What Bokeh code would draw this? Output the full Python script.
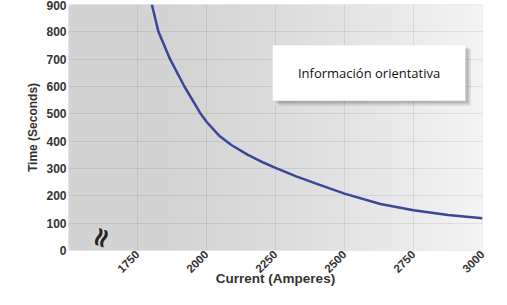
import numpy as np
from bokeh.plotting import figure
from bokeh.models import FixedTicker, Label, BoxAnnotation, Range1d
from bokeh.embed import file_html
from bokeh.resources import INLINE

# data
current = [1802, 1826, 1868, 1920, 1979, 2000, 2045, 2090, 2150, 2208, 2250, 2325,
           2400, 2500, 2630, 2750, 2875, 3000]
time_s = [900, 800, 700, 600, 500, 471, 421, 386, 350, 321, 302, 271,
          244, 208, 170, 147, 130, 118]
x_ticks = [1750, 2000, 2250, 2500, 2750, 3000]
break_pos = 1615
y_ticks = [0, 100, 200, 300, 400, 500, 600, 700, 800, 900]
note_text = "Información orientativa"

X0, X1 = 1500, 3000
Y0, Y1 = 0, 900

p = figure(width=491, height=289, output_backend="svg", toolbar_location=None,
           x_range=Range1d(X0, X1), y_range=Range1d(Y0, Y1),
           min_border_left=68, min_border_right=9, min_border_top=4, min_border_bottom=30)
p.outline_line_color = None
p.background_fill_color = "#d6d6d6"
p.border_fill_color = "white"

# horizontal gradient background of the plot area
n = 256
t = np.linspace(0, 1, n)
ramp = np.clip((t - 0.2) / 0.8, 0, 1) ** 1.3
lev = (211 + (244 - 211) * ramp).astype(np.uint32)
img = np.empty((1, n), dtype=np.uint32)
img[0, :] = (255 << 24) | (lev << 16) | (lev << 8) | lev
r_img = p.image_rgba(image=[img], x=X0, y=Y0, dw=X1 - X0, dh=Y1 - Y0)
r_img.level = "image"

p.xgrid.ticker = FixedTicker(ticks=x_ticks)
p.xgrid.grid_line_color = "#000000"
p.xgrid.grid_line_alpha = 0.08
p.ygrid.grid_line_color = "#000000"
p.ygrid.grid_line_alpha = 0.08

p.line(current, time_s, line_color="#3a4799", line_width=2.5)

# note box with shadow
p.add_layout(BoxAnnotation(left=2262, right=2958, top=736, bottom=530,
                           fill_color="#000000", fill_alpha=0.10, line_color=None))
p.add_layout(BoxAnnotation(left=2254, right=2950, top=742, bottom=538,
                           fill_color="#000000", fill_alpha=0.14, line_color=None))
p.add_layout(BoxAnnotation(left=2240, right=2938, top=751, bottom=548,
                           fill_color="white", fill_alpha=1.0, line_color=None))
p.add_layout(Label(x=2589, y=650, text=note_text, text_align="center",
                   text_baseline="middle", text_font="Open Sans",
                   text_font_size="13px", text_color="#111111"))

# axis break marker
p.add_layout(Label(x=break_pos, y=Y0, text="≈", text_align="center",
                   text_baseline="middle", angle=1.25, y_offset=13,
                   text_font="DejaVu Sans", text_font_size="27px",
                   text_font_style="bold", text_color="#222222", level="overlay"))

p.xaxis.ticker = FixedTicker(ticks=x_ticks)
p.yaxis.ticker = FixedTicker(ticks=y_ticks)
p.xaxis.major_label_orientation = np.pi / 4
for ax in (p.xaxis, p.yaxis):
    ax.axis_line_color = None
    ax.major_tick_line_color = None
    ax.minor_tick_line_color = None
    ax.major_tick_out = 0
    ax.major_label_text_font = "Liberation Sans"
    ax.major_label_text_font_style = "bold"
    ax.major_label_text_color = "#333333"
    ax.axis_label_text_font = "Liberation Sans"
    ax.axis_label_text_font_style = "bold"
    ax.axis_label_text_color = "#333333"
    ax.major_label_standoff = 2
p.yaxis.major_label_text_font_size = "12px"
p.xaxis.major_label_text_font_size = "11.5px"
p.xaxis.axis_label = "Current (Amperes)"
p.yaxis.axis_label = "Time (Seconds)"
p.xaxis.axis_label_text_font_size = "13.5px"
p.yaxis.axis_label_text_font_size = "12px"
p.xaxis.axis_label_standoff = -8
p.yaxis.axis_label_standoff = 3

open("out.html", "w").write(file_html(p, INLINE))
